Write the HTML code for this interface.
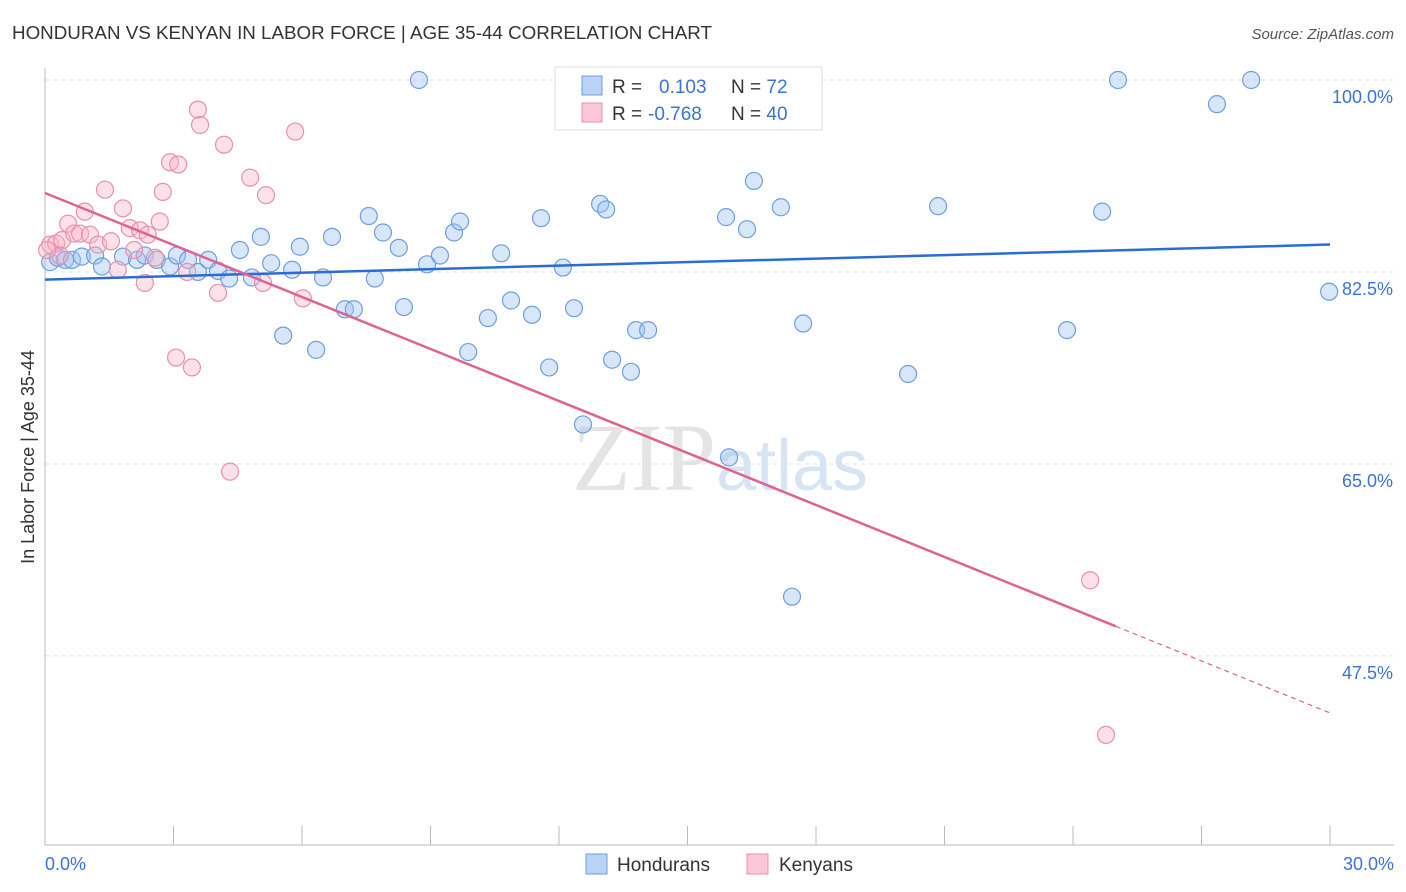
<!DOCTYPE html>
<html><head><meta charset="utf-8"><style>
body{margin:0;background:#fff;font-family:"Liberation Sans",sans-serif;}
svg{display:block}
</style></head><body>
<svg id="c" width="1406" height="892">
<text x="12" y="39" font-size="18.8" fill="#333">HONDURAN VS KENYAN IN LABOR FORCE | AGE 35-44 CORRELATION CHART</text>
<text x="1394" y="39" font-size="15" fill="#555" font-style="italic" text-anchor="end">Source: ZipAtlas.com</text>
<text x="720" y="490" font-size="96" fill="#e4e4e4" text-anchor="middle" font-family="Liberation Serif">ZIP<tspan fill="#d6e4f4" font-family="Liberation Sans" font-size="72">atlas</tspan></text>
<g id="grid"></g><g id="axes"></g><g id="pts"></g><g id="trend"></g>
<text transform="translate(34,457) rotate(-90)" font-size="18" fill="#333" text-anchor="middle">In Labor Force | Age 35-44</text>
<text x="45" y="870" font-size="18" fill="#3b72d8">0.0%</text>
<text x="1394" y="870" font-size="18" fill="#3b72d8" text-anchor="end">30.0%</text>
<g>
<rect x="555" y="67" width="267" height="63" fill="#fff" stroke="#ddd"/>
<rect x="582" y="76" width="20" height="19" fill="#b9d3f5" stroke="#6d9fe0"/>
<rect x="582" y="103" width="20" height="19" fill="#fbc6d6" stroke="#e990ae"/>
<text x="612" y="93" font-size="19" fill="#333">R = <tspan fill="#3b72d8" x="659">0.103</tspan><tspan x="731" fill="#333">N = </tspan><tspan fill="#3b72d8">72</tspan></text>
<text x="612" y="120" font-size="19" fill="#333">R = <tspan fill="#3b72d8" x="648">-0.768</tspan><tspan x="731" fill="#333">N = </tspan><tspan fill="#3b72d8">40</tspan></text>
</g>
<g>
<rect x="586" y="854" width="21" height="20" fill="#b9d3f5" stroke="#6d9fe0"/>
<text x="617" y="871" font-size="19" fill="#333">Hondurans</text>
<rect x="747" y="854" width="21" height="20" fill="#fbc6d6" stroke="#e990ae"/>
<text x="779" y="871" font-size="19" fill="#333">Kenyans</text>
</g>
</svg>
<script>
const yTicks=[100,82.5,65,47.5];
const yTickLabels=["100.0%","82.5%","65.0%","47.5%"];
const xTicks=[0,3,6,9,12,15,18,21,24,27,30];
const blueX=[.12,.30,.47,.63,.86,1.17,1.33,1.82,2.15,2.33,2.61,2.92,3.08,3.34,3.57,3.81,4.04,4.30,4.55,4.83,5.04,5.28,5.56,5.77,5.95,6.33,6.49,6.70,7.00,7.21,7.56,7.70,7.89,8.26,8.38,8.73,8.92,9.22,9.55,9.69,9.88,10.34,10.65,10.88,11.37,11.58,11.77,12.09,12.35,12.56,12.96,13.10,13.24,13.68,13.80,14.08,15.90,15.97,16.39,16.55,17.18,17.44,17.70,20.15,20.85,23.86,24.68,25.05,27.36,28.16,29.98];
const blueY=[83.4,83.8,83.6,83.6,83.9,84.0,83.0,83.9,83.6,84.0,83.6,83.0,84.0,83.6,82.5,83.6,82.6,81.9,84.5,82.0,85.7,83.3,76.7,82.7,84.8,75.4,82.0,85.7,79.1,79.1,87.6,81.9,86.1,84.7,79.3,100,83.2,84.0,86.1,87.1,75.2,78.3,84.2,79.9,78.6,87.4,73.8,82.9,79.2,68.6,88.7,88.2,74.5,73.4,77.2,77.2,87.5,65.6,86.4,90.8,88.4,52.9,77.8,73.2,88.5,77.2,88.0,100,97.8,100,80.7];
const pinkX=[.12,.26,.40,.54,.68,.82,.93,1.05,1.24,1.40,1.54,1.82,1.98,2.08,2.22,2.33,2.40,2.57,2.68,2.75,2.92,3.11,3.32,3.06,3.43,3.57,3.62,4.04,4.18,4.32,4.79,5.09,5.16,5.84,6.02,24.40,24.77,1.70,.35,0.05];
const pinkY=[85.0,85.1,85.4,86.9,86.0,86.0,88.0,85.9,85.0,90.0,85.3,88.3,86.5,84.5,86.3,81.5,85.9,83.8,87.1,89.8,92.5,92.3,82.5,74.7,73.8,97.3,95.9,80.6,94.1,64.3,91.1,81.5,89.5,95.3,80.1,54.4,40.3,82.7,84.0,84.5];
const blueTrend=[81.8,85.0];
const pinkTrend=[89.7,42.3];
const pinkSolidEnd=25;
const NS="http://www.w3.org/2000/svg";
const X=v=>45+v*1285/30, Y=v=>80+(100-v)*10.97;
function mk(t,a,p){const e=document.createElementNS(NS,t);for(const k in a)e.setAttribute(k,a[k]);p.appendChild(e);return e;}
const grid=document.getElementById('grid'),axes=document.getElementById('axes'),pts=document.getElementById('pts'),tr=document.getElementById('trend');
yTicks.forEach((v,i)=>{
 const l=mk('line',{x1:45,x2:1394,y1:Y(v),y2:Y(v),stroke:'#e2e2e2','stroke-dasharray':'4,4'},grid);
 
 
 const t=mk('text',{x:1393,y:Y(v)+23,'font-size':18,fill:'#3b72d8','text-anchor':'end'},grid);t.textContent=yTickLabels[i];
 
 
});
const ya=mk('line',{x1:45,x2:45,y1:68,y2:845,stroke:'#bbb'},axes);


const xa=mk('line',{x1:45,x2:1394,y1:845,y2:845,stroke:'#bbb'},axes);


xTicks.forEach(v=>{const t=mk('line',{x1:X(v),x2:X(v),y1:826,y2:845,stroke:'#bbb'},axes);
 
 });
blueX.forEach((x,i)=>{const c=mk('circle',{cx:X(x),cy:Y(blueY[i]),r:8.5,fill:'rgba(160,196,240,0.42)',stroke:'#6d9fe0','stroke-width':1.2},pts);
 
 });
pinkX.forEach((x,i)=>{const c=mk('circle',{cx:X(x),cy:Y(pinkY[i]),r:8.5,fill:'rgba(248,180,200,0.4)',stroke:'#e990ae','stroke-width':1.2},pts);
 
 });
const bl=mk('line',{x1:X(0),y1:Y(blueTrend[0]),x2:X(30),y2:Y(blueTrend[1]),stroke:'#2a6dd6','stroke-width':2.5},tr);


const pAt=x=>pinkTrend[0]+(pinkTrend[1]-pinkTrend[0])*x/30;
const pl=mk('line',{x1:X(0),y1:Y(pAt(0)),x2:X(pinkSolidEnd),y2:Y(pAt(pinkSolidEnd)),stroke:'#e0628f','stroke-width':2.5},tr);


const pd=mk('line',{x1:X(pinkSolidEnd),y1:Y(pAt(pinkSolidEnd)),x2:X(30),y2:Y(pAt(30)),stroke:'#e0628f','stroke-width':1.2,'stroke-dasharray':'5,4'},tr);


</script>
</body></html>
